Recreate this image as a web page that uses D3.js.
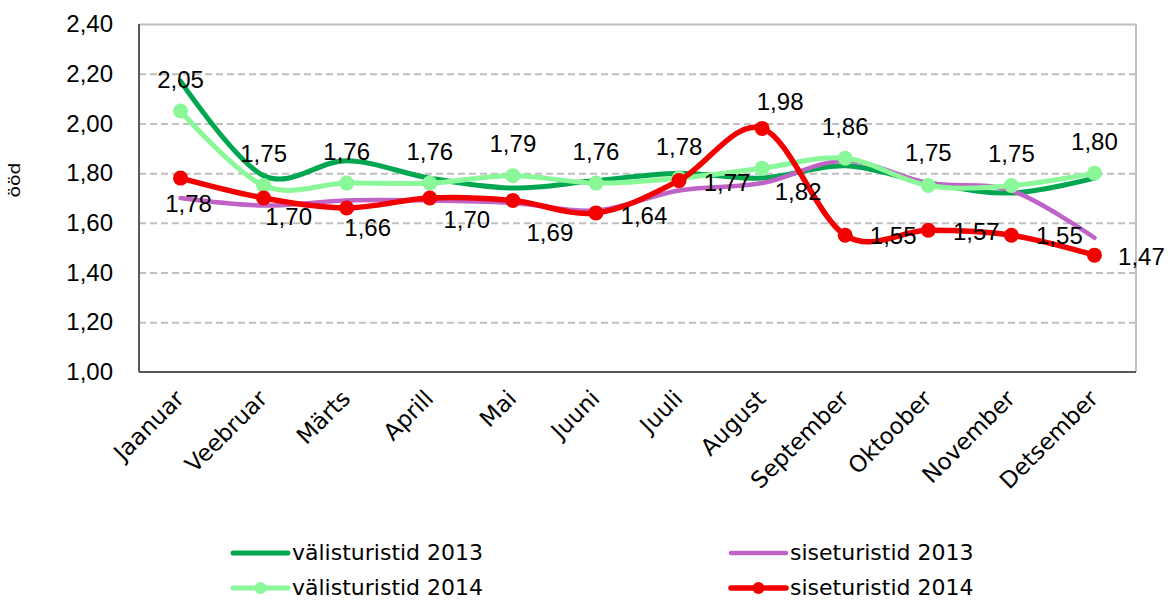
<!DOCTYPE html>
<html>
<head>
<meta charset="utf-8">
<script src="https://cdn.jsdelivr.net/npm/d3@7/dist/d3.min.js"></script>
<style>
  html, body { margin: 0; padding: 0; background: #fff; }
  svg { display: block; }
</style>
</head>
<body>
<svg id="chart" width="1168" height="600"></svg>
<script>
// ---- data ----
const months = ["Jaanuar","Veebruar","Märts","Aprill","Mai","Juuni","Juuli","August","September","Oktoober","November","Detsember"];
const valis2013 = [2.17,1.79,1.85,1.78,1.74,1.77,1.80,1.78,1.83,1.76,1.72,1.78];
const sise2013  = [1.70,1.67,1.69,1.69,1.68,1.65,1.73,1.76,1.85,1.76,1.73,1.54];
const valis2014 = [2.05,1.75,1.76,1.76,1.79,1.76,1.78,1.82,1.86,1.75,1.75,1.80];
const sise2014  = [1.78,1.70,1.66,1.70,1.69,1.64,1.77,1.98,1.55,1.57,1.55,1.47];
const yTicks = [1.0,1.2,1.4,1.6,1.8,2.0,2.2,2.4];
const seriesNames = ["välisturistid 2013","siseturistid 2013","välisturistid 2014","siseturistid 2014"];
const yTitle = "ööd";

// ---- layout / style (not data) ----
const plot = {left:139, right:1136, top:24, bottom:372};
const colors = ["#00a650","#bf63c6","#8af799","#f20000"];
const widths = [5,4.5,5,5.5];
const hasMarker = [false,false,true,true];
const showLabels = [false,false,true,true];
// label centre offsets relative to the point, per series/month
const labelOffsets = [
  null, null,
  [[0,-32],[0,-32],[0,-32],[0,-32],[0,-32],[0,-32],[0,-32],[36,23],[0,-32],[0,-33],[0,-32],[0,-32]],
  [[8,25],[25,18],[21,19],[37,21],[37,32],[48,2],[48,2],[18,-27],[48,0],[48,1],[48,0],[47,1.5]]
];

const locale = d3.formatLocale({decimal: ",", thousands: " ", grouping: [3], currency: ["", "€"]});
const fmt = locale.format(".2f");

const svg = d3.select("#chart");
const x = d3.scalePoint().domain(months).range([plot.left, plot.right]).padding(0.5);
const y = d3.scaleLinear().domain([1.0, 2.4]).range([plot.bottom, plot.top]);

// gridlines
const yAxis = d3.axisLeft(y).tickValues(yTicks).tickSize(-(plot.right - plot.left)).tickFormat(fmt).tickPadding(26);
const gy = svg.append("g").attr("transform", `translate(${plot.left},0)`).call(yAxis);
gy.select(".domain").remove();
gy.selectAll(".tick line")
  .attr("stroke", "#c0c0c0").attr("stroke-width", 2)
  .attr("stroke-dasharray", d => (d === 1.0 || d === 2.4) ? null : "7,4")
  .attr("display", d => d === 1.0 ? "none" : null);
gy.selectAll(".tick text")
  .attr("font-family", "'Liberation Sans', Arial, sans-serif")
  .attr("font-size", 24).attr("fill", "#000");

// right border
svg.append("line").attr("x1", plot.right).attr("x2", plot.right).attr("y1", plot.top).attr("y2", plot.bottom)
  .attr("stroke", "#c0c0c0").attr("stroke-width", 2);

// x axis
const xAxis = d3.axisBottom(x).tickSize(0).tickFormat("");
const gx = svg.append("g").attr("transform", `translate(0,${plot.bottom})`).call(xAxis);
gx.select(".domain").attr("stroke", "#595959").attr("stroke-width", 2)
  .attr("d", `M${plot.left},0H${plot.right}`);
svg.append("g").selectAll("text").data(months).join("text")
  .attr("transform", d => `translate(${x(d) + 5},${plot.bottom + 28}) rotate(-45)`)
  .attr("text-anchor", "end")
  .attr("font-family", "'DejaVu Sans', Verdana, sans-serif")
  .attr("font-size", 23).attr("fill", "#000")
  .text(d => d);

// left axis line
svg.append("line").attr("x1", plot.left).attr("x2", plot.left).attr("y1", plot.top).attr("y2", plot.bottom)
  .attr("stroke", "#595959").attr("stroke-width", 2);

// y title
svg.append("text")
  .attr("transform", `translate(20,180) rotate(-90)`)
  .attr("text-anchor", "middle")
  .attr("font-family", "'DejaVu Sans', Verdana, sans-serif")
  .attr("font-size", 15).attr("fill", "#000")
  .attr("textLength", 35).attr("lengthAdjust", "spacingAndGlyphs")
  .text(yTitle);

// series
const allSeries = [valis2013, sise2013, valis2014, sise2014];
const line = d3.line().x((d, i) => x(months[i])).y(d => y(d)).curve(d3.curveCatmullRom.alpha(0));
allSeries.forEach((vals, s) => {
  svg.append("path").datum(vals)
    .attr("d", line)
    .attr("fill", "none")
    .attr("stroke", colors[s])
    .attr("stroke-width", widths[s])
    .attr("stroke-linecap", "round")
    .attr("stroke-linejoin", "round");
  if (hasMarker[s]) {
    svg.append("g").selectAll("circle").data(vals).join("circle")
      .attr("cx", (d, i) => x(months[i]))
      .attr("cy", d => y(d))
      .attr("r", 7.5)
      .attr("fill", colors[s]);
  }
});

// labels
allSeries.forEach((vals, s) => {
  if (!showLabels[s]) return;
  svg.append("g").selectAll("text").data(vals).join("text")
    .attr("x", (d, i) => x(months[i]) + labelOffsets[s][i][0])
    .attr("y", (d, i) => y(d) + labelOffsets[s][i][1])
    .attr("dy", "0.36em")
    .attr("text-anchor", "middle")
    .attr("font-family", "'Liberation Sans', Arial, sans-serif")
    .attr("font-size", 24).attr("fill", "#000")
    .text(d => fmt(d));
});

// legend
const legendPos = [
  {lx: 233, ly: 553}, {lx: 731, ly: 553},
  {lx: 233, ly: 588}, {lx: 731, ly: 588}
];
seriesNames.forEach((name, s) => {
  const p = legendPos[s];
  const g = svg.append("g");
  g.append("line").attr("x1", p.lx).attr("x2", p.lx + 55).attr("y1", p.ly).attr("y2", p.ly)
    .attr("stroke", colors[s]).attr("stroke-width", widths[s]).attr("stroke-linecap", "round");
  if (hasMarker[s]) {
    g.append("circle").attr("cx", p.lx + 27.5).attr("cy", p.ly).attr("r", 6).attr("fill", colors[s]);
  }
  g.append("text").attr("x", p.lx + 59).attr("y", p.ly + 7)
    .attr("font-family", "'DejaVu Sans', Verdana, sans-serif")
    .attr("font-size", 22).attr("fill", "#000")
    .text(name);
});
</script>
</body>
</html>
